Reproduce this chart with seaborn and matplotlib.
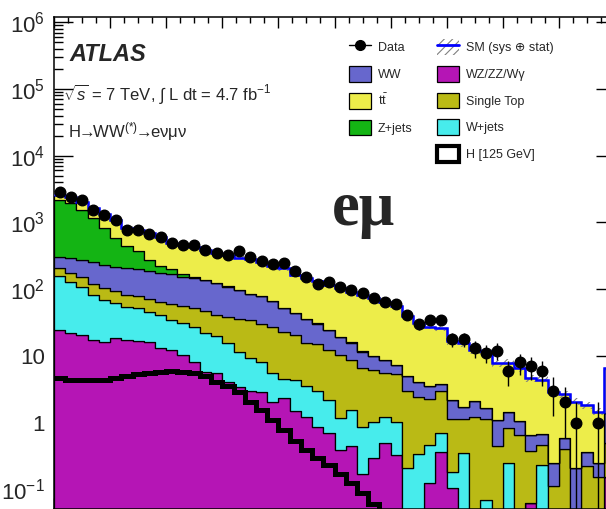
import numpy as np
import pandas as pd
import seaborn as sns
import matplotlib.pyplot as plt
from matplotlib.patches import Patch
from matplotlib.lines import Line2D
from matplotlib.ticker import FixedLocator, MultipleLocator, LogLocator, NullFormatter, FuncFormatter

# 50 equal bins, x shown as bin index (axis labels are cropped in the original)
n_bins = 50
edges = np.arange(n_bins + 1)
centers = edges[:-1] + 0.5

# Background processes (events per bin)
ttbar = [480, 450, 470, 470, 500, 490, 400, 400, 410, 380, 300, 287, 275, 249, 225, 210, 200,
         196, 181, 157, 154, 120, 110, 99.5, 91.8, 83.7, 76, 70.3, 63.1, 56.3, 48.7, 34.1, 26.9,
         24.0, 22.1, 14.2, 13.8, 10.2, 10.0, 6.6, 6.5, 5.5, 3.95, 3.7, 2.66, 2.11, 1.85, 1.48, 1.21, 5.1]
zjets = [1825, 1654, 1270, 909, 589, 368, 230, 167, 91, 45, 32, 18, 9, 3, 2, 1.5, 1,
         0.8, 0.7, 0.6, 0.5, 0.4, 0.3, 0.3, 0.2, 0.2, 0.2, 0.1, 0.1, 0, 0, 0, 0,
         0, 0, 0, 0, 0, 0, 0, 0, 0, 0, 0, 0, 0, 0, 0, 0, 0]
ww = [102, 118, 120, 134, 124, 121, 124, 122, 115, 110, 106, 97, 94, 89, 82, 70, 61,
      49.3, 47.4, 37.8, 29.5, 22.9, 20.0, 15.2, 11.7, 8.7, 7.1, 5.1, 3.6, 3.1, 1.9, 2.0, 1.65,
      1.23, 0.88, 1.07, 0.58, 0.87, 0.52, 0.65, 0.61, 0.39, 0.28, 0.22, 0.14, 0.18, 0.21, 0.14, 0.10, 0.88]
single_top = [51, 45, 44, 36, 36, 31, 28, 27, 25, 24, 25, 25, 24, 25, 22, 23, 24,
              25.5, 22.0, 22.0, 17.9, 16.3, 12.0, 12.1, 10.1, 9.2, 7.2, 5.6, 5.2, 4.4, 4.4, 2.71, 2.11,
              1.78, 2.23, 0.94, 0.77, 1.2, 1.05, 0.45, 0.57, 0.65, 0.31, 0.23, 0.11, 0.40, 0, 0.22, 0.15, 0.35]
wjets = [130.5, 108.2, 88.4, 64.7, 53, 43.1, 37.5, 35.4, 30.1, 28.1, 22.3, 20.5, 19.3, 16.0, 13.9, 11.4, 8.1,
         6.3, 5.3, 3.4, 2.15, 2.9, 2.24, 2.05, 1.5, 0.77, 1.08, 0.7, 0.72, 0.71, 0.68, 0.21, 0.34,
         0.34, 0.33, 0.075, 0.35, 0, 0.069, 0, 0.25, 0, 0, 0.23, 0, 0, 0, 0, 0, 0]
diboson = [24.5, 21.8, 20.6, 17.3, 16.0, 18.4, 17.3, 16.4, 16.0, 13.0, 12.3, 10.3, 8.2, 5.8, 5.6, 4.1, 3.46,
           2.92, 2.86, 2.06, 2.32, 1.47, 1.23, 0.87, 0.69, 0.39, 0.44, 0.17, 0.29, 0.49, 0.33, 0, 0,
           0.125, 0.36, 0.105, 0, 0, 0, 0, 0, 0, 0.062, 0, 0, 0, 0, 0, 0, 0.15]

# Higgs signal (125 GeV), drawn as a separate line
higgs = [4.6, 4.4, 4.4, 4.4, 4.4, 4.6, 4.9, 5.3, 5.6, 5.8, 6.0, 5.8, 5.5, 4.9, 4.1, 3.5, 2.9,
         2.06, 1.55, 1.09, 0.77, 0.52, 0.39, 0.29, 0.23, 0.17, 0.123, 0.087, 0.061, 0.043, 0.03, 0.02, 0.015,
         0.01, 0.01, 0.01, 0.01, 0.01, 0.01, 0.01, 0.01, 0.01, 0.01, 0.01, 0.01, 0.01, 0.01, 0.01, 0.01, 0.01]

# Observed events
data = [2810, 2390, 2130, 1545, 1300, 1070, 775, 775, 668, 603, 490, 451, 451, 388, 346, 327, 375,
        308, 265, 237, 250, 184, 151, 120, 127, 107, 97, 87, 73, 64, 59, 41, 30,
        35, 35, 18, 18, 13, 11, 12, 6, 8, 7, 6, 3, 2, 1, 0, 1, 0]

# relative SM uncertainty (sys + stat)
sm_unc = [0.06] * 20 + [0.08] * 15 + [0.12] * 15

processes = {
    'tt': ttbar,
    'Z+jets': zjets,
    'WW': ww,
    'Single Top': single_top,
    'W+jets': wjets,
    'WZ/ZZ/Wγ': diboson,
}
colors = {
    'tt': '#eded4a',
    'Z+jets': '#14b414',
    'WW': '#6767cd',
    'Single Top': '#baba15',
    'W+jets': '#47ecec',
    'WZ/ZZ/Wγ': '#b515b5',
}
# seaborn stacks the first hue level on top
stack_order = ['tt', 'Z+jets', 'WW', 'Single Top', 'W+jets', 'WZ/ZZ/Wγ']

rows = []
for name in stack_order:
    for c, v in zip(centers, processes[name]):
        rows.append((c, v, name))
df = pd.DataFrame(rows, columns=['x', 'events', 'process'])

sns.set_theme(style='ticks')
plt.rcParams['font.family'] = ['Liberation Sans', 'DejaVu Sans']
plt.rcParams['mathtext.fontset'] = 'custom'
plt.rcParams['mathtext.rm'] = 'Liberation Sans'
plt.rcParams['mathtext.it'] = 'Liberation Sans:italic'
plt.rcParams['mathtext.bf'] = 'Liberation Sans:bold'
plt.rcParams['hatch.linewidth'] = 0.8

W, H = 606, 509
fig = plt.figure(figsize=(W / 100, H / 100), dpi=100)
ax = fig.add_axes([54 / W, -0.3 / H, 561 / W, 492.3 / H])

sns.histplot(data=df, x='x', weights='events', hue='process', hue_order=stack_order,
             palette=colors, multiple='stack', bins=edges.tolist(), element='step', fill=True,
             alpha=1, edgecolor='black', linewidth=0.9, legend=False, ax=ax)
ax.set_yscale('log')

sm = np.array(ttbar) + np.array(zjets) + np.array(ww) + np.array(single_top) + \
    np.array(wjets) + np.array(diboson)
unc = np.array(sm_unc)

ax.stairs(higgs, edges, color='black', linewidth=3.6, baseline=None, zorder=3)
ax.stairs(sm * (1 + unc), edges, baseline=sm * (1 - unc), fill=True, facecolor='none',
          edgecolor='#808080', hatch='////', linewidth=0, zorder=4)
ax.stairs(sm, edges, color='#0000ff', linewidth=1.8, baseline=None, zorder=5)

d = np.array(data, dtype=float)
m = d > 0
ax.errorbar(centers[m], d[m], yerr=np.sqrt(d[m]), fmt='o', color='black', ms=7.6,
            elinewidth=1.0, capsize=0, zorder=6)

ax.set_xlim(0, n_bins)
ax.set_ylim(0.05, 1.2e6)
ax.set_xlabel('')
ax.set_ylabel('')
ax.grid(False)

ax.xaxis.set_major_locator(FixedLocator(np.arange(0, 51, 5)))
ax.xaxis.set_minor_locator(MultipleLocator(1.25))
ax.yaxis.set_major_locator(FixedLocator([0.1, 1, 10, 1e2, 1e3, 1e4, 1e5, 1e6]))
ax.yaxis.set_minor_locator(LogLocator(base=10, subs=np.arange(2, 10), numticks=20))
ax.yaxis.set_minor_formatter(NullFormatter())


def ylab(v, pos):
    e = int(round(np.log10(v)))
    if e == 1:
        return '10'
    if e == 0:
        return '1'
    return r'$10^{%d}$' % e


ax.yaxis.set_major_formatter(FuncFormatter(ylab))
ax.tick_params(axis='both', which='both', direction='in', top=True, right=True,
               labelbottom=False, color='black', width=1.0)
ax.tick_params(axis='x', which='major', length=8)
ax.tick_params(axis='x', which='minor', length=4.3)
ax.tick_params(axis='y', which='major', length=13.7, labelsize=16, pad=6.5)
ax.tick_params(axis='y', which='minor', length=6.8)
for s in ax.spines.values():
    s.set_linewidth(1.1)
    s.set_color('black')


def fx(px):
    return px / W


def fy(py):
    return 1 - py / H


fig.text(fx(69), fy(61), 'ATLAS', fontsize=17, fontweight='bold', fontstyle='italic',
         va='baseline', ha='left')
fig.text(fx(63), fy(100), r'$\sqrt{s}$ = 7 TeV, $\int$ L dt = 4.7 fb$^{-1}$', fontsize=12,
         va='baseline', ha='left')
fig.text(fx(68), fy(137), r'H$\!\!\rightarrow\!\!$WW$^{(*)}$$\!\!\rightarrow\!\!$eνμν', fontsize=12,
         va='baseline', ha='left')
fig.text(fx(332), fy(225), 'eμ', fontsize=45, fontweight='bold',
         family=['Liberation Serif', 'DejaVu Serif'], va='baseline', ha='left')

# legend, two columns (first column has an empty last slot)
h_data = Line2D([], [], marker='o', color='black', ms=7, lw=1)
h_sm = (Patch(facecolor='white', edgecolor='#808080', hatch='////', linewidth=0),
        Line2D([], [], color='#0000ff', lw=2))
h_blank = Patch(facecolor='none', edgecolor='none')


def box(name):
    return Patch(facecolor=colors[name], edgecolor='black', linewidth=0.9)


handles = [h_data, box('WW'), box('tt'), box('Z+jets'), h_blank,
           h_sm, box('WZ/ZZ/Wγ'), box('Single Top'), box('W+jets'),
           Patch(facecolor='white', edgecolor='black', linewidth=3)]
labels = ['Data', 'WW', r't$\bar{\mathrm{t}}$', 'Z+jets', '',
          'SM (sys ⊕ stat)', 'WZ/ZZ/Wγ', 'Single Top', 'W+jets', 'H [125 GeV]']
fig.legend(handles, labels, ncol=2, loc='upper left', bbox_to_anchor=(fx(349), fy(39.5)),
           frameon=False, fontsize=9, borderpad=0, borderaxespad=0,
           handlelength=1.76, handleheight=1.52, labelspacing=0.9,
           handletextpad=0.56, columnspacing=1.9)

fig.savefig('out.png', dpi=100)
